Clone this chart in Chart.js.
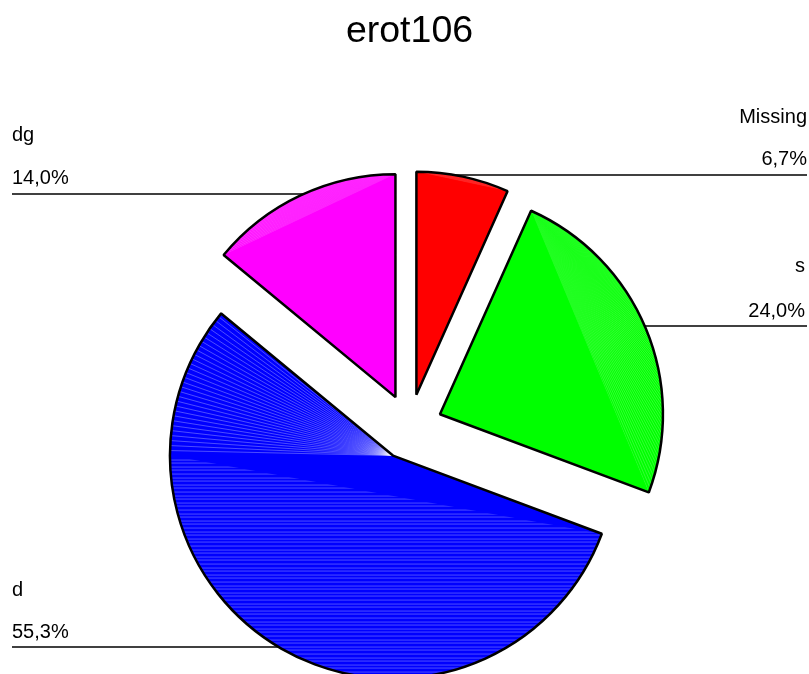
<!DOCTYPE html>
<html>
<head>
<meta charset="utf-8">
<title>erot106</title>
<script src="https://cdn.jsdelivr.net/npm/chart.js@4/dist/chart.umd.min.js"></script>
<style>
html, body { margin: 0; padding: 0; background: #fff; overflow: hidden; }
canvas { display: block; }
</style>
</head>
<body>
<canvas id="chartPie" width="809" height="674"></canvas>
<script>
var chartTitle = "erot106";
var categories = ["Missing", "s", "d", "dg"];
var sliceValues = [6.7, 24.0, 55.3, 14.0];
var sliceColors = ["#ff0000", "#00ff00", "#0000ff", "#ff00ff"];

// label layout, same order as categories
var labelX = [807, 805, 12, 12];
var labelAlign = ["right", "right", "left", "left"];
var nameBaseline = [123, 272, 596, 141];
var valueBaseline = [165, 317, 638, 184];
var leaderY = [175, 326, 647, 194];
var leaderEnd = [807, 807, 12, 12];

var EXPLODE = 33;

function formatValue(v) {
    return v.toFixed(1).replace(".", ",") + "%";
}

function midDir(arc) {
    var mid = (arc.startAngle + arc.endAngle) / 2;
    return {x: Math.cos(mid), y: Math.sin(mid)};
}

function rim(arc, angle) {
    return {x: arc.x + arc.outerRadius * Math.cos(angle), y: arc.y + arc.outerRadius * Math.sin(angle)};
}

function line(ctx, a, b) {
    ctx.beginPath();
    ctx.moveTo(a.x, a.y);
    ctx.lineTo(b.x, b.y);
    ctx.stroke();
}

// fan of light lines from one rim corner, seen only between chord and rim
function fanFromCorner(ctx, arc, from, to) {
    var c = rim(arc, from);
    var e = rim(arc, to);
    ctx.save();
    ctx.beginPath();
    ctx.moveTo(c.x, c.y);
    ctx.arc(arc.x, arc.y, arc.outerRadius, from, to, to < from);
    ctx.lineTo(e.x, e.y);
    ctx.closePath();
    ctx.clip();
    // lines bunch up at the corner, fade them there so it does not go white
    var fade = ctx.createRadialGradient(c.x, c.y, 0, c.x, c.y, 150);
    fade.addColorStop(0, "rgba(255,255,255,0)");
    fade.addColorStop(1, "rgba(255,255,255,0.2)");
    ctx.strokeStyle = fade;
    var step = 4 / arc.outerRadius * (to > from ? 1 : -1);
    for (var a = from + step; (to - a) * step > 0; a += step) {
        line(ctx, c, rim(arc, a));
    }
    ctx.restore();
}

function blueTexture(ctx, arc) {
    var left = Math.PI;
    var step = 5 / arc.outerRadius;
    ctx.strokeStyle = "rgba(255,255,255,0.3)";
    // upper part, lines run to the slice point
    for (var a = left + step; a < arc.endAngle; a += step) {
        line(ctx, {x: arc.x, y: arc.y}, rim(arc, a));
    }
    // lower part, flat lines under the chord
    var p = rim(arc, left);
    var q = rim(arc, arc.startAngle);
    ctx.save();
    ctx.beginPath();
    ctx.moveTo(p.x, p.y);
    ctx.lineTo(q.x, q.y);
    ctx.lineTo(q.x + 40, arc.y + arc.outerRadius + 10);
    ctx.lineTo(p.x - 10, arc.y + arc.outerRadius + 10);
    ctx.closePath();
    ctx.clip();
    for (var k = 1; p.y + k * 3.6 < arc.y + arc.outerRadius; k++) {
        var y = Math.round(p.y + k * 3.6) + 0.5;
        line(ctx, {x: p.x - 5, y: y}, {x: q.x + 5, y: y});
    }
    ctx.restore();
}

var explodedPie = {
    id: "explodedPie",
    beforeDatasetDraw: function (chart, args) {
        var ctx = chart.ctx;
        var arcs = chart.getDatasetMeta(args.index).data;

        // leaders go first so the slices cover their inner end
        ctx.save();
        ctx.strokeStyle = "#000";
        ctx.lineWidth = 1.6;
        arcs.forEach(function (arc, i) {
            var d = midDir(arc);
            var innerX = arc.x + d.x * (EXPLODE + arc.outerRadius * 0.5);
            line(ctx, {x: innerX, y: leaderY[i]}, {x: leaderEnd[i], y: leaderY[i]});
        });
        ctx.restore();

        arcs.forEach(function (arc, i) {
            var d = midDir(arc);
            ctx.save();
            ctx.translate(d.x * EXPLODE, d.y * EXPLODE);
            ctx.save();
            ctx.beginPath();
            ctx.moveTo(arc.x, arc.y);
            ctx.arc(arc.x, arc.y, arc.outerRadius, arc.startAngle, arc.endAngle);
            ctx.closePath();
            ctx.fillStyle = sliceColors[i];
            ctx.fill();
            ctx.clip();
            ctx.lineWidth = 1;
            if (i == 2) {
                blueTexture(ctx, arc);
            } else if (i == 3) {
                fanFromCorner(ctx, arc, arc.endAngle, arc.startAngle);
            } else {
                fanFromCorner(ctx, arc, arc.startAngle, arc.endAngle);
            }
            ctx.restore();
            // fill is see-through here, only the outline comes from the element
            arc.draw(ctx);
            ctx.restore();
        });
        return false;
    },
    afterDraw: function (chart) {
        var ctx = chart.ctx;
        ctx.save();
        ctx.fillStyle = "#000";
        ctx.font = "20px 'Liberation Sans'";
        categories.forEach(function (name, i) {
            ctx.textAlign = labelAlign[i];
            ctx.fillText(name, labelX[i], nameBaseline[i]);
            ctx.fillText(formatValue(sliceValues[i]), labelX[i], valueBaseline[i]);
        });
        ctx.restore();
    }
};

var chart = new Chart("chartPie", {
    type: "pie",
    data: {
        labels: categories,
        datasets: [{
            data: sliceValues,
            backgroundColor: "rgba(0,0,0,0)",
            borderColor: "#000",
            borderWidth: 2.5,
            borderAlign: "center",
            radius: 223
        }]
    },
    options: {
        responsive: false,
        animation: false,
        layout: {padding: {left: 10}},
        plugins: {
            legend: {display: false},
            tooltip: {enabled: false},
            title: {
                display: true,
                text: chartTitle,
                color: "#000",
                font: {family: "'Liberation Sans'", size: 37.5, weight: "normal"},
                padding: {top: 9, bottom: 126}
            }
        }
    },
    plugins: [explodedPie]
});
</script>
</body>
</html>
